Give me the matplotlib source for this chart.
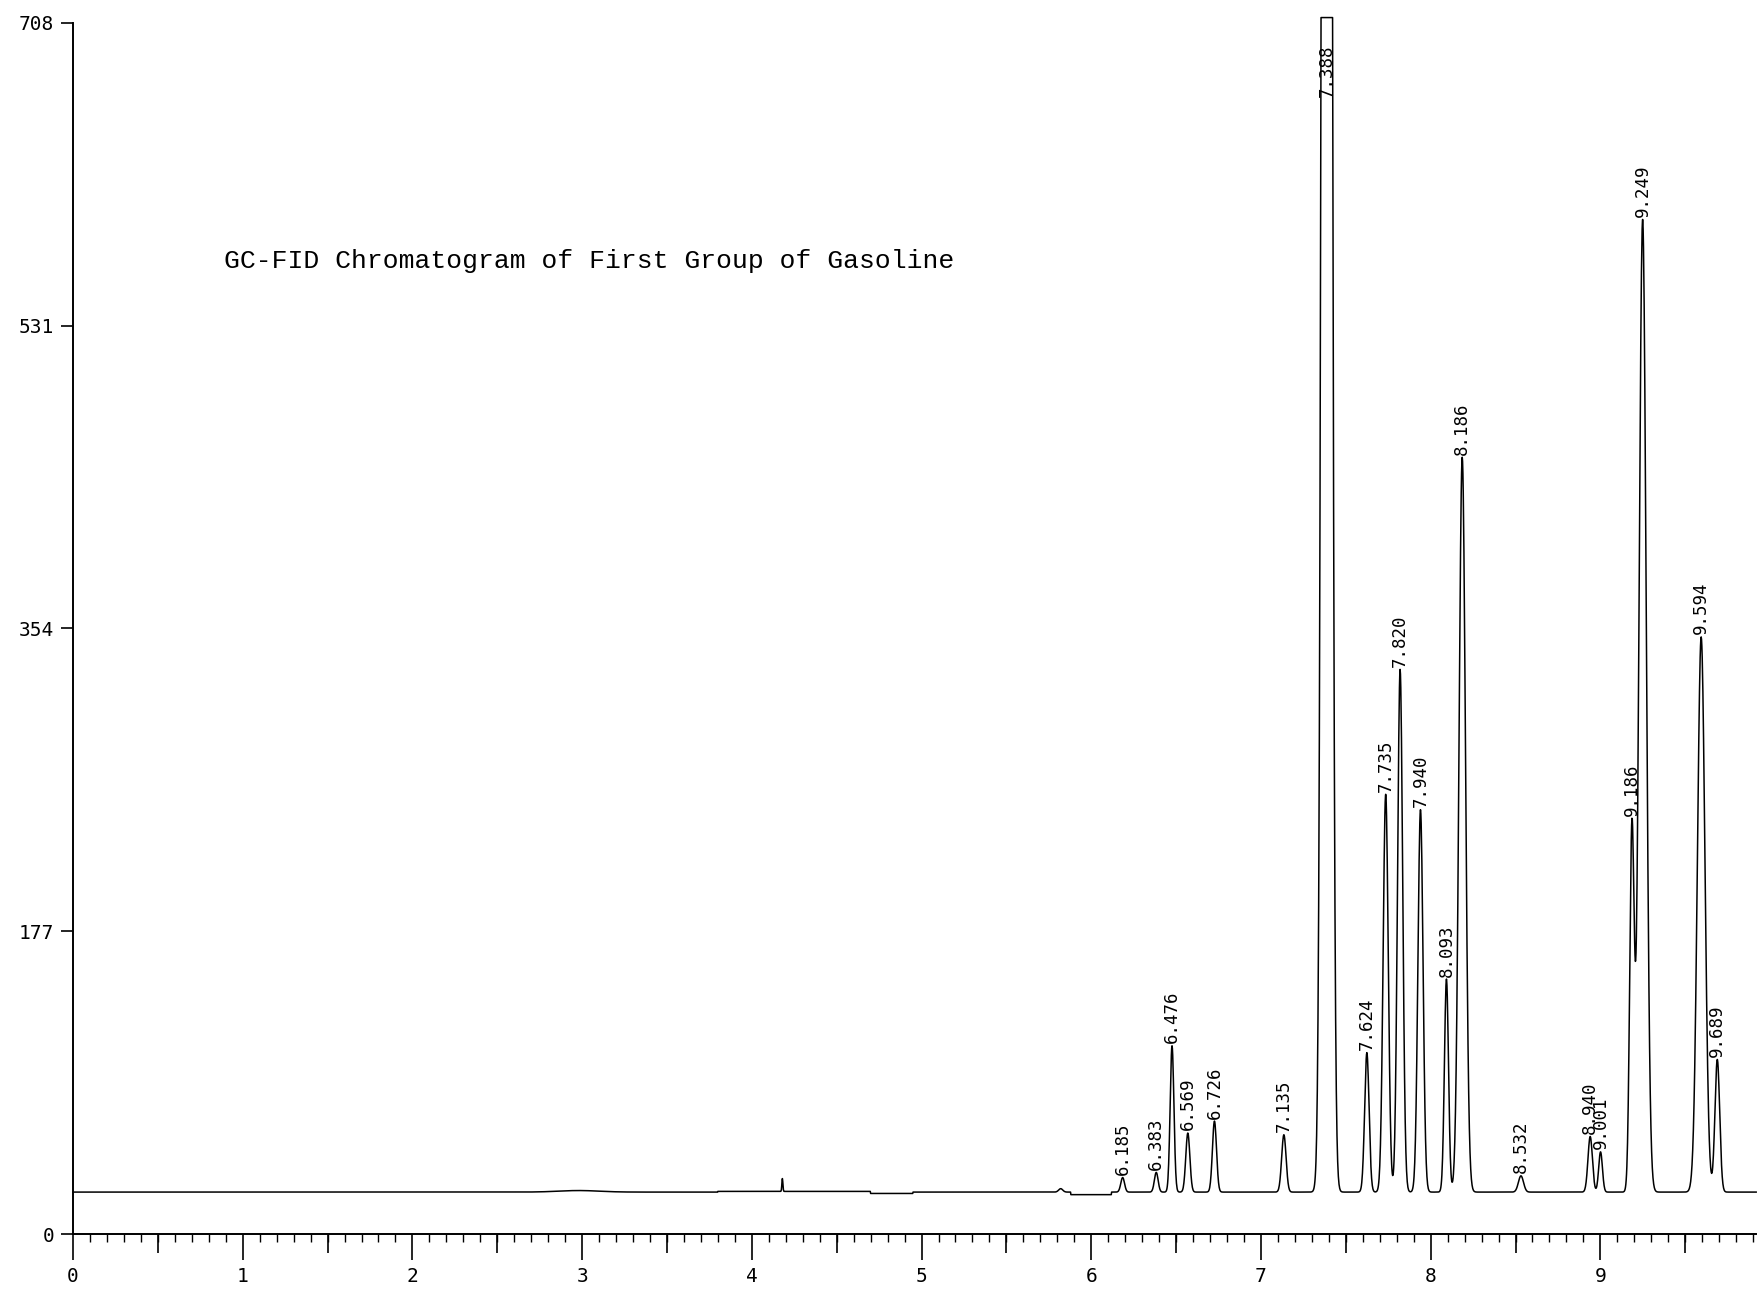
import numpy as np
import matplotlib
matplotlib.use("Agg")
import matplotlib.pyplot as plt

# peak table: retention time (min), apex height (counts), width (sigma, min)
peak_rt = [6.185, 6.383, 6.476, 6.569, 6.726, 7.135, 7.388, 7.624, 7.735, 7.820,
           7.940, 8.093, 8.186, 8.532, 8.940, 9.001, 9.186, 9.249, 9.594, 9.689]
peak_h = [33, 36, 110, 59, 66, 58, 3000, 106, 257, 330,
          248, 149, 454, 34, 57, 48, 243, 593, 349, 102]
peak_sig = [0.011, 0.011, 0.011, 0.012, 0.012, 0.013, 0.020, 0.013, 0.015, 0.015,
            0.015, 0.012, 0.019, 0.015, 0.013, 0.011, 0.013, 0.021, 0.022, 0.014]

# unlabelled blips on the baseline
blip_rt = [4.18, 5.82, 2.98]
blip_h = [32, 26.5, 25.4]
blip_sig = [0.003, 0.012, 0.12]

# baseline drift segments: start, end, offset
drift = [(3.80, 4.70, 0.4), (4.70, 4.95, -0.8), (5.88, 6.12, -1.5)]

baseline = 24.5
full_scale = 711   # plotter pen limit
y_ticks = [0, 177, 354, 531, 708]
title = "GC-FID Chromatogram of First Group of Gasoline"

# ---- build trace ----
t = np.sort(np.concatenate([np.arange(0, 9.92, 0.002), peak_rt]))
rt = np.array(peak_rt)
sig = np.array(peak_sig)
G = np.exp(-(rt[:, None] - rt[None, :]) ** 2 / (2 * sig[None, :] ** 2))
amp = np.linalg.solve(G, np.array(peak_h, float) - baseline)

y = np.full_like(t, baseline)
for a, r, s in zip(amp, rt, sig):
    y += a * np.exp(-(t - r) ** 2 / (2 * s ** 2))
for r, h, s in zip(blip_rt, blip_h, blip_sig):
    y += (h - baseline) * np.exp(-(t - r) ** 2 / (2 * s ** 2))
for t0, t1, off in drift:
    y[(t >= t0) & (t < t1)] += off
y = np.minimum(y, full_scale)

# ---- figure ----
W, H = 1759, 1291
fig = plt.figure(figsize=(W / 100, H / 100), dpi=100)
ax = fig.add_axes([73 / W, 1 - 1234 / H, (1756 - 73) / W, (1234 - 22.7) / H])
ax.set_xlim(0, 9.917)
ax.set_ylim(0, 708)

ax.plot(t, y, color="black", lw=1.1, clip_on=False)

mono = "DejaVu Sans Mono"
for r, h in zip(peak_rt, peak_h):
    ax.text(r, min(h, 663) + 1.5, f"{r:.3f}", rotation=90, ha="center", va="bottom",
            fontsize=12.5, family=mono, clip_on=False)

ax.text(0.89, 569, title, ha="left", va="center", fontsize=19, family="Liberation Mono")

for s in ["top", "right"]:
    ax.spines[s].set_visible(False)
for s in ["left", "bottom"]:
    ax.spines[s].set_linewidth(1.4)

ax.set_yticks(y_ticks)
ax.set_yticklabels([str(v) for v in y_ticks], family=mono, fontsize=14)
ax.set_xticks(range(10))
ax.set_xticklabels([str(v) for v in range(10)], family=mono, fontsize=14)
ax.set_xticks(np.arange(0, 9.95, 0.1), minor=True)
ax.tick_params(axis="y", direction="out", length=8.6, width=1.2, pad=5)
ax.tick_params(axis="x", which="major", direction="out", length=18.7, width=1.2, pad=5)
ax.tick_params(axis="x", which="minor", direction="out", length=6, width=1.0)

# half-minute ticks
halves = np.arange(0.5, 9.9, 1.0)
ax.vlines(halves, -19 / 1211, 0, transform=ax.get_xaxis_transform(),
          color="black", lw=1.2, clip_on=False)

fig.savefig("out.png", dpi=100, facecolor="white")
